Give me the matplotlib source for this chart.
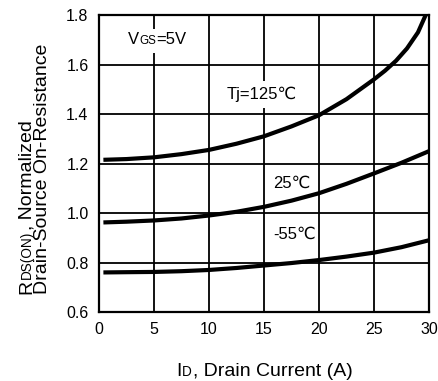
import matplotlib
matplotlib.use('Agg')
import matplotlib.pyplot as plt
from matplotlib.ticker import FormatStrFormatter

# ---- data ----
i_125 = [0.4, 2.5, 5, 7.5, 10, 12.5, 15, 17.5, 20, 22.5, 25, 26, 27, 28, 29, 29.7]
r_125 = [1.215, 1.218, 1.225, 1.238, 1.255, 1.28, 1.31, 1.35, 1.395, 1.46, 1.54,
         1.575, 1.615, 1.665, 1.73, 1.80]
i_25 = [0.4, 2.5, 5, 7.5, 10, 12.5, 15, 17.5, 20, 22.5, 25, 27.5, 30]
r_25 = [0.962, 0.965, 0.97, 0.978, 0.99, 1.005, 1.025, 1.05, 1.08, 1.118, 1.16, 1.203, 1.25]
i_m55 = [0.4, 2.5, 5, 7.5, 10, 12.5, 15, 17.5, 20, 22.5, 25, 27.5, 30]
r_m55 = [0.76, 0.761, 0.762, 0.765, 0.77, 0.778, 0.788, 0.798, 0.81, 0.824, 0.84, 0.862, 0.89]

x_ticks = [0, 5, 10, 15, 20, 25, 30]
y_ticks = [0.6, 0.8, 1.0, 1.2, 1.4, 1.6, 1.8]

label_125 = "Tj=125\u2103"
label_25 = "25\u2103"
label_m55 = "-55\u2103"

FONT = ['Liberation Sans', 'DejaVu Sans']
plt.rcParams['font.family'] = FONT

fig = plt.figure(figsize=(4.39, 3.81), dpi=100)
ax = fig.add_axes([0.2255, 0.181, 0.7517, 0.7796])

for xs, ys in ((i_125, r_125), (i_25, r_25), (i_m55, r_m55)):
    ax.plot(xs, ys, color='black', lw=3.0, solid_capstyle='butt',
            solid_joinstyle='round', zorder=2)

ax.set_xlim(0, 30)
ax.set_ylim(0.6, 1.8)
ax.set_xticks(x_ticks)
ax.set_yticks(y_ticks)
ax.yaxis.set_major_formatter(FormatStrFormatter('%.1f'))
ax.grid(True, color='black', lw=1.3)
ax.set_axisbelow(True)
ax.tick_params(length=0, pad=7.5, labelsize=11.5, colors='black')
for s in ax.spines.values():
    s.set_linewidth(1.6)
    s.set_color('black')


def chain(pieces, x, y, coords, rotation=0, gap=0.6):
    """Place text pieces one after the other on a common baseline."""
    prev = None
    out = []
    for text, size, extra in pieces:
        kw = dict(fontsize=size, rotation=rotation, rotation_mode='anchor',
                  ha='left', va='baseline', color='black', annotation_clip=False)
        kw.update(extra)
        if prev is None:
            a = ax.annotate(text, xy=(x, y), xycoords=coords, **kw)
        elif rotation == 0:
            a = ax.annotate(text, xy=(1, y), xycoords=(prev, coords),
                            xytext=(gap, 0), textcoords='offset points', **kw)
        else:
            a = ax.annotate(text, xy=(x, 1), xycoords=(coords, prev),
                            xytext=(0, gap), textcoords='offset points', **kw)
        out.append(a)
        prev = a
    return out


BIG = 14
SMALL = BIG * 0.7

# y-axis label (two lines)
chain([("R", BIG, {}), ("DS(ON)", SMALL, {}), (", Normalized", BIG, {})],
      31 / 439, 1 - 294 / 381, 'figure fraction', rotation=90)
chain([("Drain-Source On-Resistance", BIG, {})],
      47 / 439, 1 - 294 / 381, 'figure fraction', rotation=90)

# x-axis label
chain([("I", BIG, {}), ("D", SMALL, {}), (", Drain Current (A)", BIG, {})],
      176 / 439, 1 - 376.5 / 381, 'figure fraction')

# in-plot annotations
ANN = 12
white = dict(bbox=dict(boxstyle='square,pad=0.55', fc='white', ec='none'), zorder=2.9)
chain([("V", ANN, {'zorder': 3}), ("GS", ANN * 0.7, white), ("=5V", ANN, {'zorder': 3})],
      2.64, 1.683, 'data', gap=0.0)

ax.text(14.8, 1.461, label_125, fontsize=ANN, ha='center', va='baseline', zorder=3,
        bbox=dict(boxstyle='square,pad=0.35', fc='white', ec='none'))
ax.text(15.8, 1.101, label_25, fontsize=ANN, ha='left', va='baseline', zorder=3)
ax.text(15.8, 0.895, label_m55, fontsize=ANN, ha='left', va='baseline', zorder=3)

fig.savefig('out.png', dpi=100, facecolor='white')
